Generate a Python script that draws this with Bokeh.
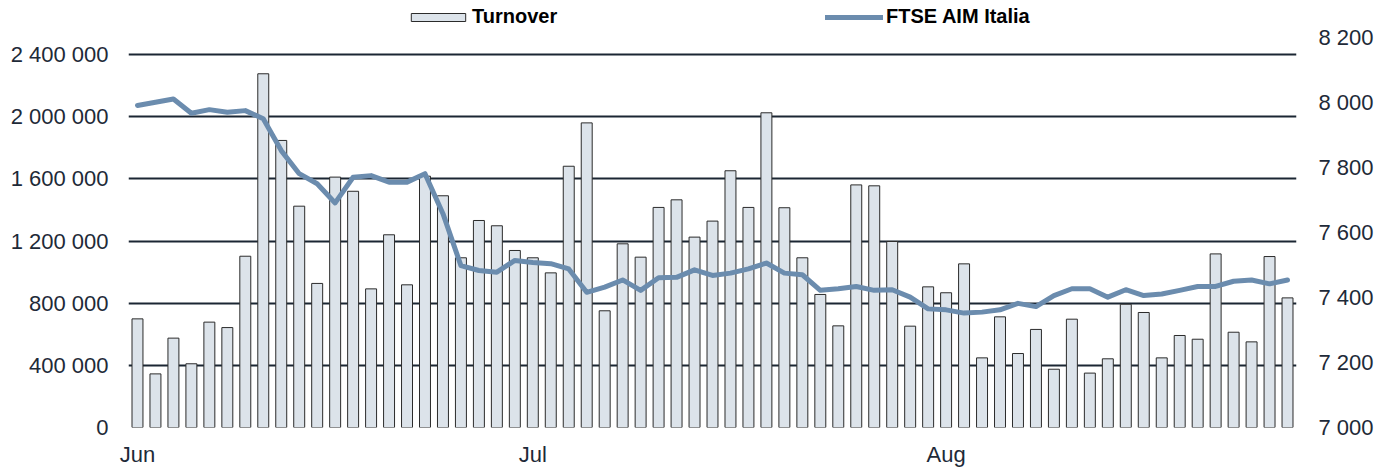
from bokeh.plotting import figure
from bokeh.models import (Range1d, LinearAxis, FixedTicker, Legend, LegendItem,
                          ColumnDataSource)
from bokeh.embed import file_html
from bokeh.resources import INLINE

# ---- data ----
turnover = [699000, 345000, 575000, 410000, 678000, 643000, 1102000, 2276000, 1847000, 1424000,
            927000, 1611000, 1520000, 892000, 1240000, 918000, 1617000, 1491000, 1092000, 1332000,
            1298000, 1139000, 1092000, 995000, 1681000, 1960000, 751000, 1182000, 1096000, 1416000,
            1465000, 1225000, 1328000, 1652000, 1416000, 2025000, 1414000, 1092000, 856000, 654000,
            1561000, 1555000, 1197000, 652000, 905000, 867000, 1053000, 448000, 712000, 476000,
            631000, 375000, 697000, 350000, 442000, 793000, 740000, 448000, 592000, 568000,
            1117000, 613000, 551000, 1100000, 834000]

ftse_aim = [7991, 8001, 8011, 7967, 7978, 7970, 7975, 7950, 7852, 7781,
            7750, 7691, 7770, 7775, 7755, 7755, 7781, 7658, 7498, 7483,
            7478, 7514, 7508, 7504, 7488, 7416, 7432, 7454, 7422, 7461,
            7462, 7485, 7468, 7475, 7488, 7506, 7475, 7470, 7422, 7427,
            7434, 7422, 7424, 7401, 7365, 7362, 7352, 7355, 7362, 7382,
            7372, 7406, 7427, 7427, 7401, 7424, 7406, 7411, 7422, 7434,
            7434, 7450, 7454, 7442, 7454]

month_labels = ["Jun", "Jul", "Aug"]
month_first_session = [0, 22, 45]

left_ticks = [0, 400000, 800000, 1200000, 1600000, 2000000, 2400000]
right_ticks = [7000, 7200, 7400, 7600, 7800, 8000, 8200]

# ---- styling ----
TEXT = "#1e2a38"
FONT = "Liberation Sans"
FRAME_H = 427            # frame reaches the top so the legend can sit inside it
LEFT_PX = 373            # pixels from 0 to the top left tick
RIGHT_PX = 390           # pixels from 7000 to 8200 on the right scale

session = list(range(len(turnover)))
src = ColumnDataSource(data=dict(x=session, turnover=turnover, ftse=ftse_aim))

def spaced(v):
    return f"{v:,}".replace(",", " ")

p = figure(frame_width=1168, frame_height=FRAME_H,
           min_border_left=128, min_border_right=91, min_border_top=0, min_border_bottom=41,
           x_range=Range1d(-0.5, len(turnover) - 0.5),
           y_range=Range1d(0, left_ticks[-1] * FRAME_H / LEFT_PX),
           output_backend="svg", toolbar_location=None,
           background_fill_color="white", border_fill_color="white")
p.outline_line_color = None

p.extra_y_ranges = {"index": Range1d(right_ticks[0],
                                     right_ticks[0] + (right_ticks[-1] - right_ticks[0]) * FRAME_H / RIGHT_PX)}

# grid
p.xgrid.visible = False
p.ygrid.ticker = FixedTicker(ticks=left_ticks)
p.ygrid.grid_line_color = "#1b2633"
p.ygrid.grid_line_width = 2

# left axis
yl = p.yaxis[0]
yl.ticker = FixedTicker(ticks=left_ticks)
yl.major_label_overrides = {t: spaced(t) for t in left_ticks}

# right axis
yr = LinearAxis(y_range_name="index", ticker=FixedTicker(ticks=right_ticks))
yr.major_label_overrides = {t: spaced(t) for t in right_ticks}
p.add_layout(yr, "right")

# x axis
xa = p.xaxis[0]
xa.ticker = FixedTicker(ticks=month_first_session)
xa.major_label_overrides = {s: m for s, m in zip(month_first_session, month_labels)}

for ax in (yl, yr, xa):
    ax.axis_line_color = None
    ax.major_tick_line_color = None
    ax.minor_tick_line_color = None
    ax.major_tick_in = 0
    ax.major_tick_out = 0
    ax.minor_tick_in = 0
    ax.minor_tick_out = 0
    ax.major_label_text_font = FONT
    ax.major_label_text_font_size = "22px"
    ax.major_label_text_color = TEXT
yl.major_label_standoff = 20
yr.major_label_standoff = 22
xa.major_label_standoff = 14

bars = p.vbar(x="x", top="turnover", width=0.61, source=src,
              fill_color="#dce3ea", line_color="#2b2b2b", line_width=1)
line = p.line(x="x", y="ftse", source=src, y_range_name="index",
              line_color="#6b8cae", line_width=5, line_join="round", line_cap="round")

def make_legend(item, loc, gw, gh, standoff):
    return Legend(items=[item], location=loc, orientation="horizontal",
                  padding=0, margin=0, spacing=0,
                  glyph_width=gw, glyph_height=gh, label_standoff=standoff,
                  label_text_font=FONT, label_text_font_style="bold",
                  label_text_font_size="20px", label_text_color="#000000",
                  background_fill_alpha=0, border_line_alpha=0)

leg1 = make_legend(LegendItem(label="Turnover", renderers=[bars]), (276, 399), 68, 10, 0)
leg2 = make_legend(LegendItem(label="FTSE AIM Italia", renderers=[line]), (697, 399), 58, 10, 3)
p.add_layout(leg1, "center")
p.add_layout(leg2, "center")

open("out.html", "w").write(file_html(p, INLINE))
